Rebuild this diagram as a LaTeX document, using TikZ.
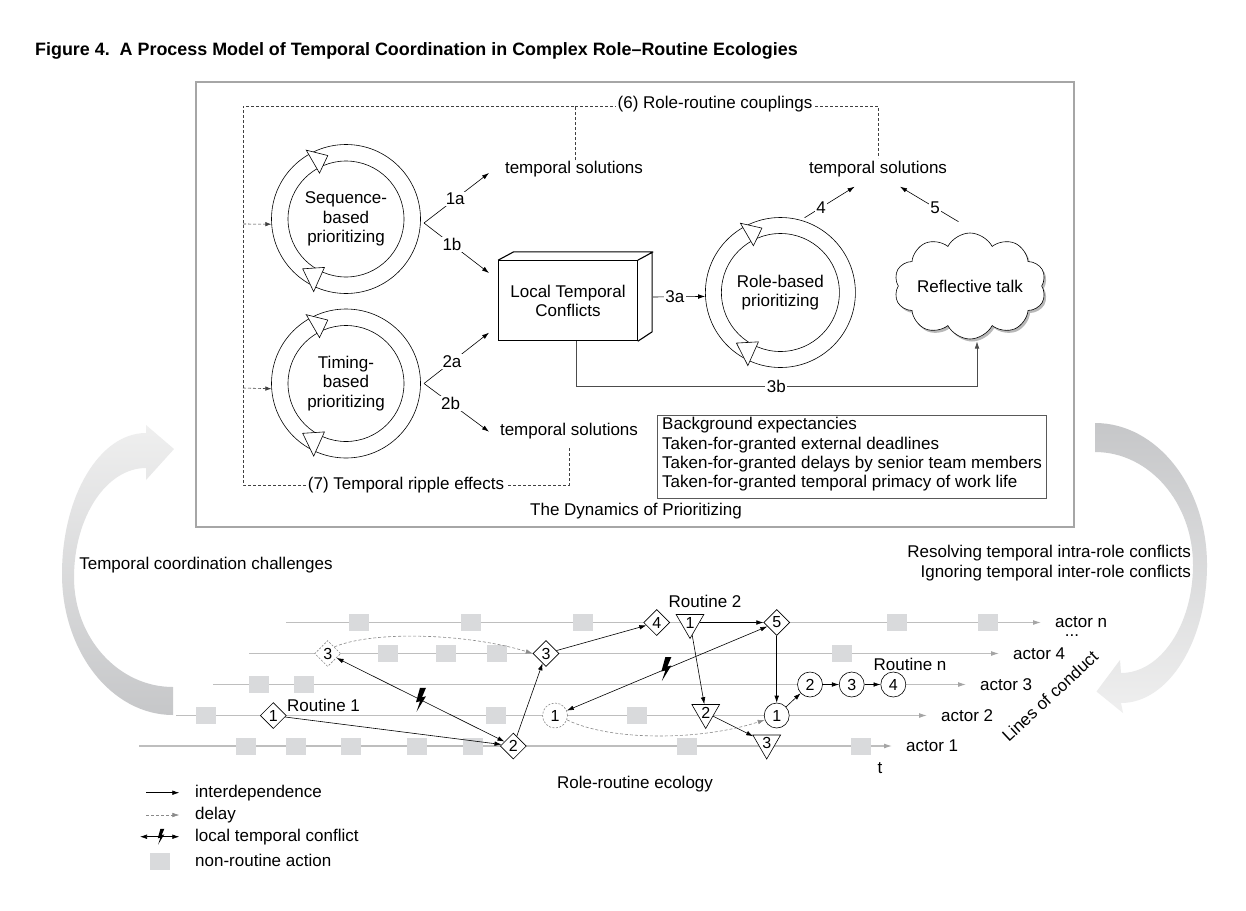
\documentclass[tikz,border=0pt]{standalone}
\usepackage{fontspec}
\setmainfont{Liberation Sans}
\usetikzlibrary{arrows.meta,shapes.geometric,shapes.symbols,calc}
\definecolor{sqgray}{HTML}{D9DADC}
\definecolor{linegray}{HTML}{BEBEBE}
\definecolor{tipgray}{HTML}{A5A5A5}
\definecolor{boxgray}{HTML}{A6A6A6}
\definecolor{dashgray}{HTML}{8A8A8A}
\definecolor{arrlight}{HTML}{EFEFEF}
\definecolor{arrdark}{HTML}{C6C7C9}
\newcommand{\ringhead}[6]{%
  \filldraw[fill=white,line width=0.6pt] ($(#1)+(#2:#4pt)$) -- ($(#1)+(#2:#5pt)$) -- ($(#1)+(#3:#6pt)$) -- cycle;}
\begin{document}
\begin{tikzpicture}[x=1pt,y=-1pt,
  every node/.style={font=\fontsize{17}{19.5}\selectfont},
  txt/.style={inner sep=0pt},
  lbl/.style={fill=white,inner sep=1.5pt},
  ring/.style={circle,draw,line width=0.6pt,minimum size=149,inner sep=0pt,align=center},
  numf/.style={font=\fontsize{16}{18}\selectfont},
  dia/.style={diamond,draw,fill=white,line width=0.6pt,minimum size=26,inner sep=0pt,numf},
  diad/.style={dia,draw=dashgray,dash pattern=on 2pt off 1.5pt},
  tri/.style={regular polygon,regular polygon sides=3,shape border rotate=180,draw,fill=white,line width=0.6pt,minimum size=32,inner sep=0pt,numf},
  circ/.style={circle,draw,fill=white,line width=0.6pt,minimum size=25,inner sep=0pt,numf},
  circd/.style={circ,draw=dashgray,dash pattern=on 2pt off 1.5pt},
  sq/.style={rectangle,fill=sqgray,minimum width=19.5,minimum height=17,inner sep=0pt},
  arr/.style={line width=0.6pt,-{Latex[length=7pt,width=4.6pt]}},
  conf/.style={line width=0.6pt,{Latex[length=7pt,width=4.6pt]}-{Latex[length=7pt,width=4.6pt]}},
  delay/.style={line width=0.6pt,draw=dashgray,dash pattern=on 3pt off 2pt,-{Latex[length=7pt,width=4.6pt,color=dashgray]}},
  dsh/.style={line width=0.6pt,draw=black!75,dash pattern=on 3pt off 2pt},
  actor/.style={line width=1.1pt,draw=linegray,-{Latex[length=8pt,width=5pt,color=tipgray]},shorten >=14pt},
  cloudst/.style={cloud,cloud puffs=10,cloud puff arc=125,cloud ignores aspect,minimum width=152,minimum height=106,inner sep=0pt},
  bolt/.pic={\fill[black] (-0.5,-12) -- (5.5,-12) -- (1.5,-2.5) -- (5.5,-3.5) -- (-4,12) -- (-0.5,1.5) -- (-4.5,2.5) -- cycle;}
]
\fill[white] (0,0) rectangle (1246,910);
\useasboundingbox (0,0) rectangle (1246,910);

% ---------- title
\node[anchor=base west,inner sep=0pt,font=\fontsize{17.9}{20}\selectfont\bfseries] (title) at (35,55)
  {Figure 4.\ \ A Process Model of Temporal Coordination in Complex Role–Routine Ecologies};

% ---------- big curved arrows
\shade[top color=arrlight,bottom color=arrdark]
  (146,433) .. controls (99.6,433) and (62,496.2) .. (62,574)
  .. controls (62,651.8) and (111.7,715) .. (173,715) -- (173,687)
  .. controls (118.4,687) and (74,637.9) .. (74,577.5)
  .. controls (74,517.1) and (106.3,468) .. (146,468)
  -- (146,480) -- (174,449) -- (146,425) -- cycle;
\shade[top color=arrdark,bottom color=arrlight]
  (1095,423) .. controls (1156.8,423) and (1207,486.6) .. (1207,565)
  .. controls (1207,641.2) and (1168.5,703) .. (1121,703)
  -- (1123,713) -- (1096.5,691.5) -- (1120,660) -- (1121,673)
  .. controls (1160.7,673) and (1193,624.6) .. (1193,565)
  .. controls (1193,502.6) and (1149.1,452) .. (1095,452) -- cycle;

% ---------- the dynamics of prioritizing box
\node[draw=boxgray,line width=1.2pt,minimum width=878,minimum height=445,inner sep=0pt] (dyn) at (635,304.5) {};
\node[txt] (dyntitle) at (636,511) {The Dynamics of Prioritizing};

% dashed couplings / ripple effects
\coordinate (dTL) at (243,106);
\coordinate (dBL) at (243,485);
\coordinate (d6a) at (575,160);
\coordinate (d6b) at (878,158);
\coordinate (d7) at (569,447);
\draw[dsh] (d6a) -- (575,106) -- (dTL) -- (dBL) -- (569,485) -- (d7);
\draw[dsh] (575,106) -- (878,106) -- (d6b);
\node[lbl] (l6) at (715,104) {(6) Role-routine couplings};
\node[lbl] (l7) at (406,485) {(7) Temporal ripple effects};

% rings
\node[ring] (seq) at (346,219) {Sequence-\\based\\prioritizing};
\draw[line width=0.6pt] (seq.center) circle[radius=58pt];
\ringhead{seq.center}{120}{106}{53}{79.5}{66}
\ringhead{seq.center}{246}{229}{53}{79.5}{66}

\node[ring] (tim) at (346,383.5) {Timing-\\based\\prioritizing};
\draw[line width=0.6pt] (tim.center) circle[radius=58pt];
\ringhead{tim.center}{120}{106}{53}{79.5}{66}
\ringhead{tim.center}{246}{229}{53}{79.5}{66}

\node[ring,minimum size=150] (role) at (780.4,292.5) {Role-based\\prioritizing};
\draw[line width=0.6pt] (role.center) circle[radius=59pt];
\ringhead{role.center}{120}{106}{54}{80}{67}
\ringhead{role.center}{246}{229}{54}{80}{67}

% dashed inputs
\coordinate (dseq) at (243,224);
\coordinate (dtim) at (243,388);
\draw[dsh,-{Latex[length=6pt,width=4.5pt]}] (dseq) -- (seq.184);
\draw[dsh,-{Latex[length=6pt,width=4.5pt]}] (dtim) -- (tim.184);

% temporal solutions
\node[txt] (ts1) at (574,169) {temporal solutions};
\node[txt] (ts2) at (878,169) {temporal solutions};
\node[txt] (ts3) at (569,431) {temporal solutions};

% local temporal conflicts box
\node[draw,line width=1.1pt,minimum width=138.5,minimum height=80,inner sep=0pt,align=center,fill=white] (ltc) at (568,300.7) {Local Temporal\\Conflicts};
\draw[line width=1.1pt,line join=round] (ltc.north west) -- ++(15.4,-8.3) -- ++(138.5,0) -- ++(0,80) -- (ltc.south east)
  (ltc.north east) -- ++(15.4,-8.3);

% cloud
\node[cloudst,fill=black!28] (cloudsh) at (972,288.5) {\phantom{Reflective talk}};
\node[cloudst,draw,fill=white,line width=0.6pt] (cloud) at (970,286) {Reflective talk};

% branches 1a/1b/2a/2b
\coordinate (v1) at (424,223);
\coordinate (v2) at (424,383.5);
\coordinate (e1a) at (489,173);
\coordinate (e1b) at (489,273);
\coordinate (e2a) at (489,332.7);
\coordinate (e2b) at (489,431.7);
\draw[arr] (v1) -- (e1a) node[lbl,pos=0.48] {1a};
\draw[arr] (v1) -- (e1b) node[lbl,pos=0.43] {1b};
\draw[arr] (v2) -- (e2a) node[lbl,pos=0.43] {2a};
\draw[arr] (v2) -- (e2b) node[lbl,pos=0.41] {2b};

% 3a, 3b, 4, 5
\coordinate (s3a) at (653,297);
\draw[arr] (s3a) -- (role.183.5) node[lbl,pos=0.42] {3a};
\coordinate (s3b) at (575.8,341);
\coordinate (e3b) at (977,341.5);
\draw[line width=0.6pt,draw=black!70,-{Latex[length=7pt,width=4.6pt]}] (s3b) -- (575.8,386) -- node[lbl,pos=0.5] {3b} (977,386) -- (e3b);
\coordinate (s4) at (804.6,217.7);
\coordinate (e4) at (854.6,186.7);
\draw[arr] (s4) -- (e4) node[lbl,pos=0.33] {4};
\coordinate (s5) at (958.5,221.7);
\coordinate (e5) at (900,186.7);
\draw[arr] (s5) -- (e5) node[lbl,pos=0.4] {5};

% background expectancies
\draw[draw=black!65,line width=0.8pt] (657,415) rectangle (1046,498.5);
\node[txt,anchor=west] (bg1) at (662,425) {Background expectancies};
\node[txt,anchor=west] (bg2) at (662,445) {Taken-for-granted external deadlines};
\node[txt,anchor=west] (bg3) at (662,464) {Taken-for-granted delays by senior team members};
\node[txt,anchor=west] (bg4) at (662,483) {Taken-for-granted temporal primacy of work life};

% side texts
\node[txt] (tcc) at (206,565) {Temporal coordination challenges};
\node[txt,anchor=east] (res1) at (1191,553) {Resolving temporal intra-role conflicts};
\node[txt,anchor=east] (res2) at (1191,573) {Ignoring temporal inter-role conflicts};

% ---------- role-routine ecology
\node[txt,anchor=west] (an) at (1055,622.5) {actor n};
\node[txt,anchor=west] (a4) at (1013,653.5) {actor 4};
\node[txt,anchor=west] (a3) at (980,684.5) {actor 3};
\node[txt,anchor=west] (a2) at (941,715.5) {actor 2};
\node[txt,anchor=west] (a1) at (906,746) {actor 1};
\coordinate (sn) at (286,622.5);
\coordinate (s4a) at (249,653.5);
\coordinate (s3r) at (213,684.5);
\coordinate (s2r) at (176,715.5);
\coordinate (s1r) at (139,746);
\draw[actor] (sn) -- (an.west);
\draw[actor] (s4a) -- (a4.west);
\draw[actor] (s3r) -- (a3.west);
\draw[actor] (s2r) -- (a2.west);
\draw[actor] (s1r) -- (a1.west);
\node[txt] (dots) at (1072,636) {...};

\foreach \x [count=\i] in {359,471,583,897,988} \node[sq] (sqn\i) at (\x,622.5) {};
\foreach \x [count=\i] in {388,446,497,842} \node[sq] (sqd\i) at (\x,653.5) {};
\foreach \x [count=\i] in {259,304} \node[sq] (sqc\i) at (\x,684.5) {};
\foreach \x [count=\i] in {206,496,637} \node[sq] (sqb\i) at (\x,715.5) {};
\foreach \x [count=\i] in {246,296,351,417,473,687,861} \node[sq] (sqa\i) at (\x,746) {};

% routine nodes
\node[dia] (r1a) at (273.3,715.5) {1};
\node[diad] (r1c) at (327.7,653.5) {3};
\node[dia] (r1b) at (513.3,746) {2};
\node[dia] (r1d) at (546,653.5) {3};
\node[dia] (r1e) at (656.7,622.5) {4};
\node[dia] (r1f) at (776.7,622.5) {5};
\node[tri] (r2a) at (690,622.5) {1};
\node[tri] (r2b) at (705.7,712.5) {2};
\node[tri] (r2c) at (766.7,743) {3};
\node[circd] (rna) at (555,715.5) {1};
\node[circ] (rnb) at (776.7,715.5) {1};
\node[circ] (rnc) at (810,684.5) {2};
\node[circ] (rnd) at (851.7,684.5) {3};
\node[circ] (rne) at (893.3,684.5) {4};

\node[txt,anchor=west] (lr1) at (287,705.5) {Routine 1};
\node[txt] (lr2) at (705,601) {Routine 2};
\node[txt] (lrn) at (910,664) {Routine n};

% interdependences
\draw[arr] (r1a) -- (r1b);
\draw[arr] (r1b) -- (r1d);
\draw[arr] (r1d) -- (r1e);
\draw[arr] (r2a) -- (r1f);
\draw[arr] (r2a) -- (r2b);
\draw[arr] (r2b) -- (r2c);
\draw[arr] (r1f) -- (rnb);
\draw[arr] (rnb) -- (rnc);
\draw[arr] (rnc) -- (rnd);
\draw[arr] (rnd) -- (rne);

% conflicts
\draw[conf] (r1c) -- (r1b);
\pic at ($(r1c)!0.5!(r1b)$) {bolt};
\draw[conf] (rna) -- (r1f);
\pic at ($(rna)!0.5!(r1f)$) {bolt};

% delays
\draw[delay] (r1c.north east) .. controls (375,630) and (470,634) .. (r1d.west);
\draw[delay] (rna.-20) .. controls (610,741) and (700,741) .. (rnb.200);

\node[txt] (tl) at (880,768) {t};
\node[txt] (eco) at (635,784) {Role-routine ecology};
\node[txt,rotate=43] (loc) at (1050,696) {Lines of conduct};

% ---------- legend
\coordinate (lg1s) at (146,792.7); \coordinate (lg1e) at (179.3,792.7);
\coordinate (lg2s) at (146,815); \coordinate (lg2e) at (179.3,815);
\coordinate (lg3s) at (140,836.7); \coordinate (lg3e) at (179.3,836.7);
\draw[arr] (lg1s) -- (lg1e);
\draw[delay] (lg2s) -- (lg2e);
\draw[conf] (lg3s) -- (lg3e);
\pic[scale=0.65] at (160.7,836.7) {bolt};
\node[sq] (lgsq) at (160,861.5) {};
\node[txt,anchor=west] (lg1) at (195,792.7) {interdependence};
\node[txt,anchor=west] (lg2) at (195,815) {delay};
\node[txt,anchor=west] (lg3) at (195,836.7) {local temporal conflict};
\node[txt,anchor=west] (lg4) at (195,860.7) {non-routine action};
\end{tikzpicture}
\end{document}
